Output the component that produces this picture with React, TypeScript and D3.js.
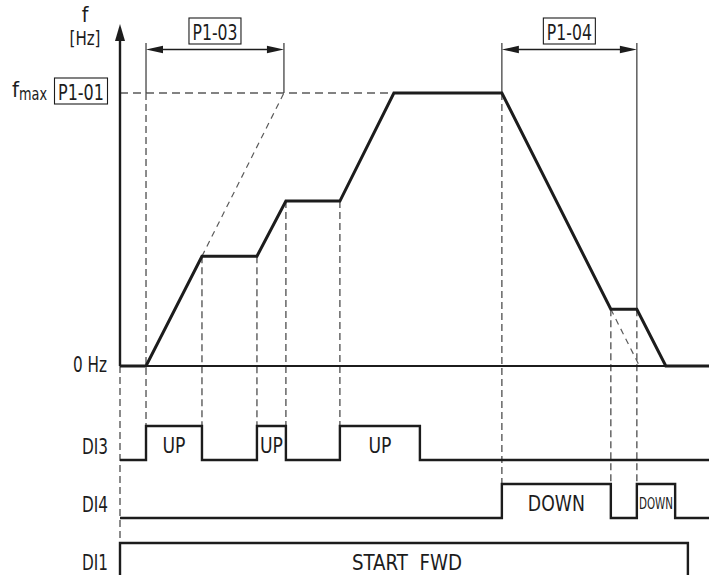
import React from "react";
import * as d3 from "d3";

// ---- data ----
const curveTime = [0, 0.53, 1.67, 2.79, 3.38, 4.48, 5.58, 7.78, 10.0, 10.53, 11.12, 12];
const curveFreq = [0, 0, 20.1, 20.1, 30.2, 30.2, 50, 50, 10.4, 10.4, 0, 0];
const fMax = 50;
const accelStart = 0.53;
const accelEnd = 3.34; // P1-03 reaches fmax
const decelStart = 7.78;
const decelEnd = 10.53; // P1-04
const di3Starts = [0.53, 2.79, 4.48];
const di3Ends = [1.67, 3.38, 6.11];
const di3Labels = ["UP", "UP", "UP"];
const di4Starts = [7.78, 10.53];
const di4Ends = [10.0, 11.31];
const di4Labels = ["DOWN", "DOWN"];
const di1Start = 0;
const di1End = 11.57;
const di1Label = "START  FWD";
const rowLabels = ["DI3", "DI4", "DI1"];

const W = 709, H = 575;
const FONT = "'Liberation Sans Narrow', 'DejaVu Sans Condensed', 'Arial Narrow', sans-serif";
const INK = "#1c1c1c";
const DASH = "#5a5a5a";

export default function App() {
  const x = d3.scaleLinear().domain([0, 12]).range([120, 709]);
  const y = d3.scaleLinear().domain([0, fMax]).range([366, 93]);
  const pts: [number, number][] = curveTime.map((t, i) => [x(t), y(curveFreq[i])]);
  const line = d3.line();

  const rowBase = [460, 518, 600];
  const rowTop = [426, 484, 543];
  const arrowY = 49.5;
  const dimTop = 43;

  const pulsePath = (starts: number[], ends: number[], base: number, top: number) => {
    const p: [number, number][] = [[x(0), base]];
    starts.forEach((s, i) => {
      p.push([x(s), base], [x(s), top], [x(ends[i]), top], [x(ends[i]), base]);
    });
    p.push([W, base]);
    return line(p) as string;
  };

  const guides: { t: number; y0: number; y1: number }[] = [
    { t: 0, y0: y(0), y1: rowTop[2] },
    { t: accelStart, y0: y(fMax), y1: rowTop[0] },
    { t: curveTime[2], y0: y(curveFreq[2]), y1: rowTop[0] },
    { t: curveTime[3], y0: y(curveFreq[3]), y1: rowTop[0] },
    { t: curveTime[4], y0: y(curveFreq[4]), y1: rowTop[0] },
    { t: curveTime[5], y0: y(curveFreq[5]), y1: rowTop[0] },
    { t: decelStart, y0: y(fMax), y1: rowTop[1] },
    { t: curveTime[8], y0: y(curveFreq[8]), y1: rowTop[1] },
    { t: curveTime[9], y0: y(curveFreq[9]), y1: rowTop[1] },
  ];

  const decelSlope = (curveFreq[7] - curveFreq[8]) / (curveTime[8] - curveTime[7]);
  const decelZeroT = curveTime[8] + curveFreq[8] / decelSlope;

  const arrowHead = (xTip: number, yc: number, dir: number) => {
    const len = 17, hw = 3.8;
    return `M${xTip},${yc} L${xTip - dir * len},${yc - hw} L${xTip - dir * len},${yc + hw} Z`;
  };

  const dim = (t0: number, t1: number, lbl: string, bottom1: number) => {
    const x0 = x(t0), x1 = x(t1);
    const cx = (x0 + x1) / 2;
    return (
      <g key={lbl}>
        <line x1={x0} x2={x0} y1={dimTop} y2={y(fMax)} stroke="#444" strokeWidth={1.3} />
        <line x1={x1} x2={x1} y1={dimTop} y2={bottom1} stroke="#444" strokeWidth={1.3} />
        <line x1={x0 + 10} x2={x1 - 10} y1={arrowY} y2={arrowY} stroke={INK} strokeWidth={1.6} />
        <path d={arrowHead(x0, arrowY, -1)} fill={INK} />
        <path d={arrowHead(x1, arrowY, 1)} fill={INK} />
        <rect x={cx - 26} y={18} width={52} height={26} fill="white" stroke={INK} strokeWidth={1.1} />
        <text x={cx} y={39.5} textAnchor="middle" fontSize={21} textLength={45} lengthAdjust="spacingAndGlyphs">{lbl}</text>
      </g>
    );
  };

  return (
    <svg width={W} height={H} style={{ position: "absolute", left: 0, top: 0 }} fontFamily={FONT} fill={INK}>
      <rect width={W} height={H} fill="white" />

      {guides.map((g, i) => (
        <line key={i} x1={x(g.t)} x2={x(g.t)} y1={g.y0} y2={g.y1} stroke={DASH} strokeWidth={1.4} strokeDasharray="7,4" />
      ))}
      <line x1={x(0)} x2={x(curveTime[6])} y1={y(fMax)} y2={y(fMax)} stroke={DASH} strokeWidth={1.4} strokeDasharray="8,5" />
      <line x1={x(curveTime[2])} y1={y(curveFreq[2])} x2={x(accelEnd)} y2={y(fMax)} stroke={DASH} strokeWidth={1.2} strokeDasharray="6,5" />
      <line x1={x(curveTime[8])} y1={y(curveFreq[8])} x2={x(decelZeroT)} y2={y(0)} stroke={DASH} strokeWidth={1.2} strokeDasharray="6,5" />

      <line x1={x(0)} x2={W} y1={y(0)} y2={y(0)} stroke={INK} strokeWidth={2} />
      <line x1={x(0)} x2={x(0)} y1={38} y2={y(0)} stroke={INK} strokeWidth={2.4} />
      <path d={`M${x(0)},24 L${x(0) - 5},41 L${x(0) + 5},41 Z`} fill={INK} />

      {dim(accelStart, accelEnd, "P1-03", y(fMax))}
      {dim(decelStart, decelEnd, "P1-04", y(curveFreq[9]))}

      <path d={line(pts) as string} fill="none" stroke={INK} strokeWidth={3} strokeLinejoin="miter" />

      <text x={85} y={22} textAnchor="middle" fontSize={21}>f</text>
      <text x={85} y={45} textAnchor="middle" fontSize={20} textLength={31} lengthAdjust="spacingAndGlyphs">[Hz]</text>
      <text x={12} y={97} fontSize={22}>f</text>
      <text x={19} y={100} fontSize={17} textLength={28} lengthAdjust="spacingAndGlyphs">max</text>
      <rect x={54.5} y={78} width={53} height={26} fill="white" stroke={INK} strokeWidth={1.1} />
      <text x={81} y={99.5} textAnchor="middle" fontSize={21} textLength={46} lengthAdjust="spacingAndGlyphs">P1-01</text>
      <text x={107} y={371.5} textAnchor="end" fontSize={21} textLength={34} lengthAdjust="spacingAndGlyphs">0 Hz</text>

      <path d={pulsePath(di3Starts, di3Ends, rowBase[0], rowTop[0])} fill="none" stroke={INK} strokeWidth={2.4} />
      <path d={pulsePath(di4Starts, di4Ends, rowBase[1], rowTop[1])} fill="none" stroke={INK} strokeWidth={2.4} />
      <path d={line([[x(di1Start), rowBase[2]], [x(di1Start), rowTop[2]], [x(di1End), rowTop[2]], [x(di1End), rowBase[2]]]) as string} fill="none" stroke={INK} strokeWidth={2.4} />

      {di3Starts.map((s, i) => (
        <text key={"u" + i} x={(x(s) + x(di3Ends[i])) / 2} y={452.5} textAnchor="middle" fontSize={22} textLength={23} lengthAdjust="spacingAndGlyphs">{di3Labels[i]}</text>
      ))}
      {di4Starts.map((s, i) => {
        const w = x(di4Ends[i]) - x(s);
        const small = w < 50;
        return (
          <text key={"d" + i} x={(x(s) + x(di4Ends[i])) / 2} y={small ? 509 : 510.5} textAnchor="middle" fontSize={small ? 15 : 22} textLength={small ? 34 : 57} lengthAdjust="spacingAndGlyphs">{di4Labels[i]}</text>
        );
      })}
      <text x={407} y={569.5} textAnchor="middle" fontSize={22} textLength={110} lengthAdjust="spacingAndGlyphs" style={{ whiteSpace: "pre" }}>{di1Label}</text>

      {rowLabels.map((r, i) => (
        <text key={r} x={108} y={[453.5, 511.5, 570][i]} textAnchor="end" fontSize={22} textLength={26} lengthAdjust="spacingAndGlyphs">{r}</text>
      ))}
    </svg>
  );
}
